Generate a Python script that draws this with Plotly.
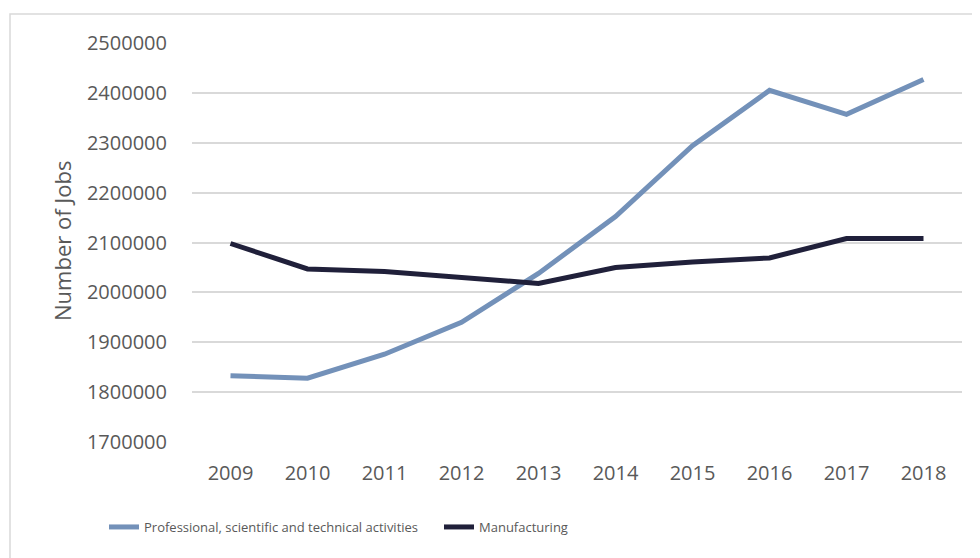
import plotly.graph_objects as go

years = ["2009", "2010", "2011", "2012", "2013", "2014", "2015", "2016", "2017", "2018"]
professional = [1833000, 1828000, 1876000, 1940000, 2038000, 2152000, 2294000, 2405000, 2357000, 2427000]
manufacturing = [2098000, 2047000, 2042000, 2031000, 2018000, 2050000, 2061000, 2069000, 2108000, 2108000]
y_ticks = [1700000, 1800000, 1900000, 2000000, 2100000, 2200000, 2300000, 2400000, 2500000]

OFF = 8  # page body margin
W, H = 980 - OFF, 558 - OFF
L, R, T, B = 192 - OFF, 18, 43 - OFF, 116
pw, ph = W - L - R, H - T - B


def px(x):
    return (x - OFF - L) / pw


def py(y):
    return (H - B - (y - OFF)) / ph


fig = go.Figure()
fig.add_trace(go.Scatter(x=years, y=professional, mode="lines",
                         name="Professional, scientific and technical activities",
                         line=dict(color="#7391B9", width=5)))
fig.add_trace(go.Scatter(x=years, y=manufacturing, mode="lines",
                         name="Manufacturing",
                         line=dict(color="#20203A", width=5)))

fig.update_layout(
    width=W, height=H,
    margin=dict(l=L, r=R, t=T, b=B),
    paper_bgcolor="white", plot_bgcolor="white",
    font=dict(family="Open Sans", color="#595959", size=20),
    showlegend=True,
    legend=dict(orientation="h", x=px(104), xanchor="left", y=py(527), yanchor="middle",
                font=dict(family="Open Sans", size=13, color="#595959"),
                itemwidth=30, tracegroupgap=0, entrywidthmode="pixels", entrywidth=290),
    xaxis=dict(showgrid=False, showline=False, zeroline=False, ticks="",
               tickfont=dict(size=20, color="#595959"), ticklabelstandoff=17,
               range=[-0.5, 9.5]),
    yaxis=dict(range=[1700000, 2500000], tickvals=y_ticks, tickformat="d",
               showgrid=True, gridcolor="#D9D9D9", gridwidth=1.5, zeroline=False,
               showline=False, ticks="", ticklabelstandoff=24,
               tickfont=dict(size=20, color="#595959")),
    annotations=[dict(text="Number of Jobs", xref="paper", yref="paper",
                      x=px(62), y=py(241), xanchor="center", yanchor="middle",
                      textangle=-90, showarrow=False,
                      font=dict(size=22, color="#595959", family="Open Sans"))],
    shapes=[dict(type="rect", xref="paper", yref="paper",
                 x0=px(10), x1=px(1000), y0=py(600), y1=py(14),
                 line=dict(color="#D9D9D9", width=1.5), fillcolor="rgba(0,0,0,0)", layer="below")],
)

fig.write_html("out.html")
